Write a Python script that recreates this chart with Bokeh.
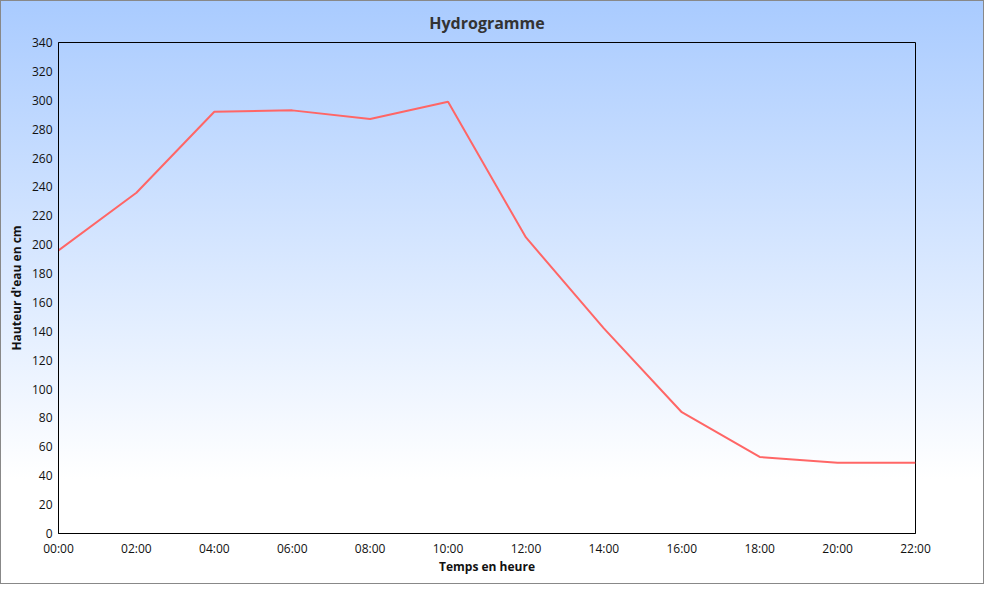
from bokeh.plotting import figure
from bokeh.models import FixedTicker, Range1d
from bokeh.embed import file_html
from bokeh.resources import INLINE

hours = [0, 2, 4, 6, 8, 10, 12, 14, 16, 18, 20, 22]
tick_labels = ["00:00", "02:00", "04:00", "06:00", "08:00", "10:00",
               "12:00", "14:00", "16:00", "18:00", "20:00", "22:00"]
hauteur = [196, 236, 292, 293, 287, 299, 205, 142, 84, 53, 49, 49]
y_ticks = list(range(0, 341, 20))

FONT = "Open Sans"

p = figure(width=984, height=584, output_backend="svg", toolbar_location=None,
           x_range=Range1d(0, 22), y_range=Range1d(0, 340),
           title="Hydrogramme",
           min_border_left=58, min_border_right=69, min_border_top=41, min_border_bottom=51,
           styles={"background": "linear-gradient(to bottom, #a9cbff 0%, #ffffff 82%, #ffffff 100%)",
                   "outline": "1px solid #888888", "outline-offset": "-1px"})

p.background_fill_alpha = 0
p.border_fill_alpha = 0
p.outline_line_color = "black"
p.outline_line_width = 1
p.xgrid.grid_line_color = None
p.ygrid.grid_line_color = None

p.title.align = "center"
p.title.text_font = FONT
p.title.text_font_size = "16px"
p.title.text_font_style = "bold"
p.title.text_color = "#333333"
p.title.offset = 6
p.title.standoff = 18

p.xaxis.ticker = FixedTicker(ticks=hours)
p.xaxis.major_label_overrides = {h: t for h, t in zip(hours, tick_labels)}
p.yaxis.ticker = FixedTicker(ticks=y_ticks)

for ax in (p.xaxis[0], p.yaxis[0]):
    ax.major_tick_line_color = None
    ax.minor_tick_line_color = None
    ax.major_tick_out = 0
    ax.major_tick_in = 0
    ax.axis_line_color = "black"
    ax.major_label_text_font = FONT
    ax.major_label_text_font_size = "12px"
    ax.major_label_text_color = "#111111"
    ax.axis_label_text_font = FONT
    ax.axis_label_text_font_size = "12px"
    ax.axis_label_text_font_style = "bold"
    ax.axis_label_text_color = "#111111"

p.xaxis.axis_label = "Temps en heure"
p.yaxis.axis_label = "Hauteur d'eau en cm"
p.xaxis.major_label_standoff = 6
p.yaxis.major_label_standoff = 6
p.xaxis.axis_label_standoff = -2
p.yaxis.axis_label_standoff = 4

p.line(hours, hauteur, line_color="#ff6666", line_width=2)

open("out.html", "w").write(file_html(p, INLINE))
